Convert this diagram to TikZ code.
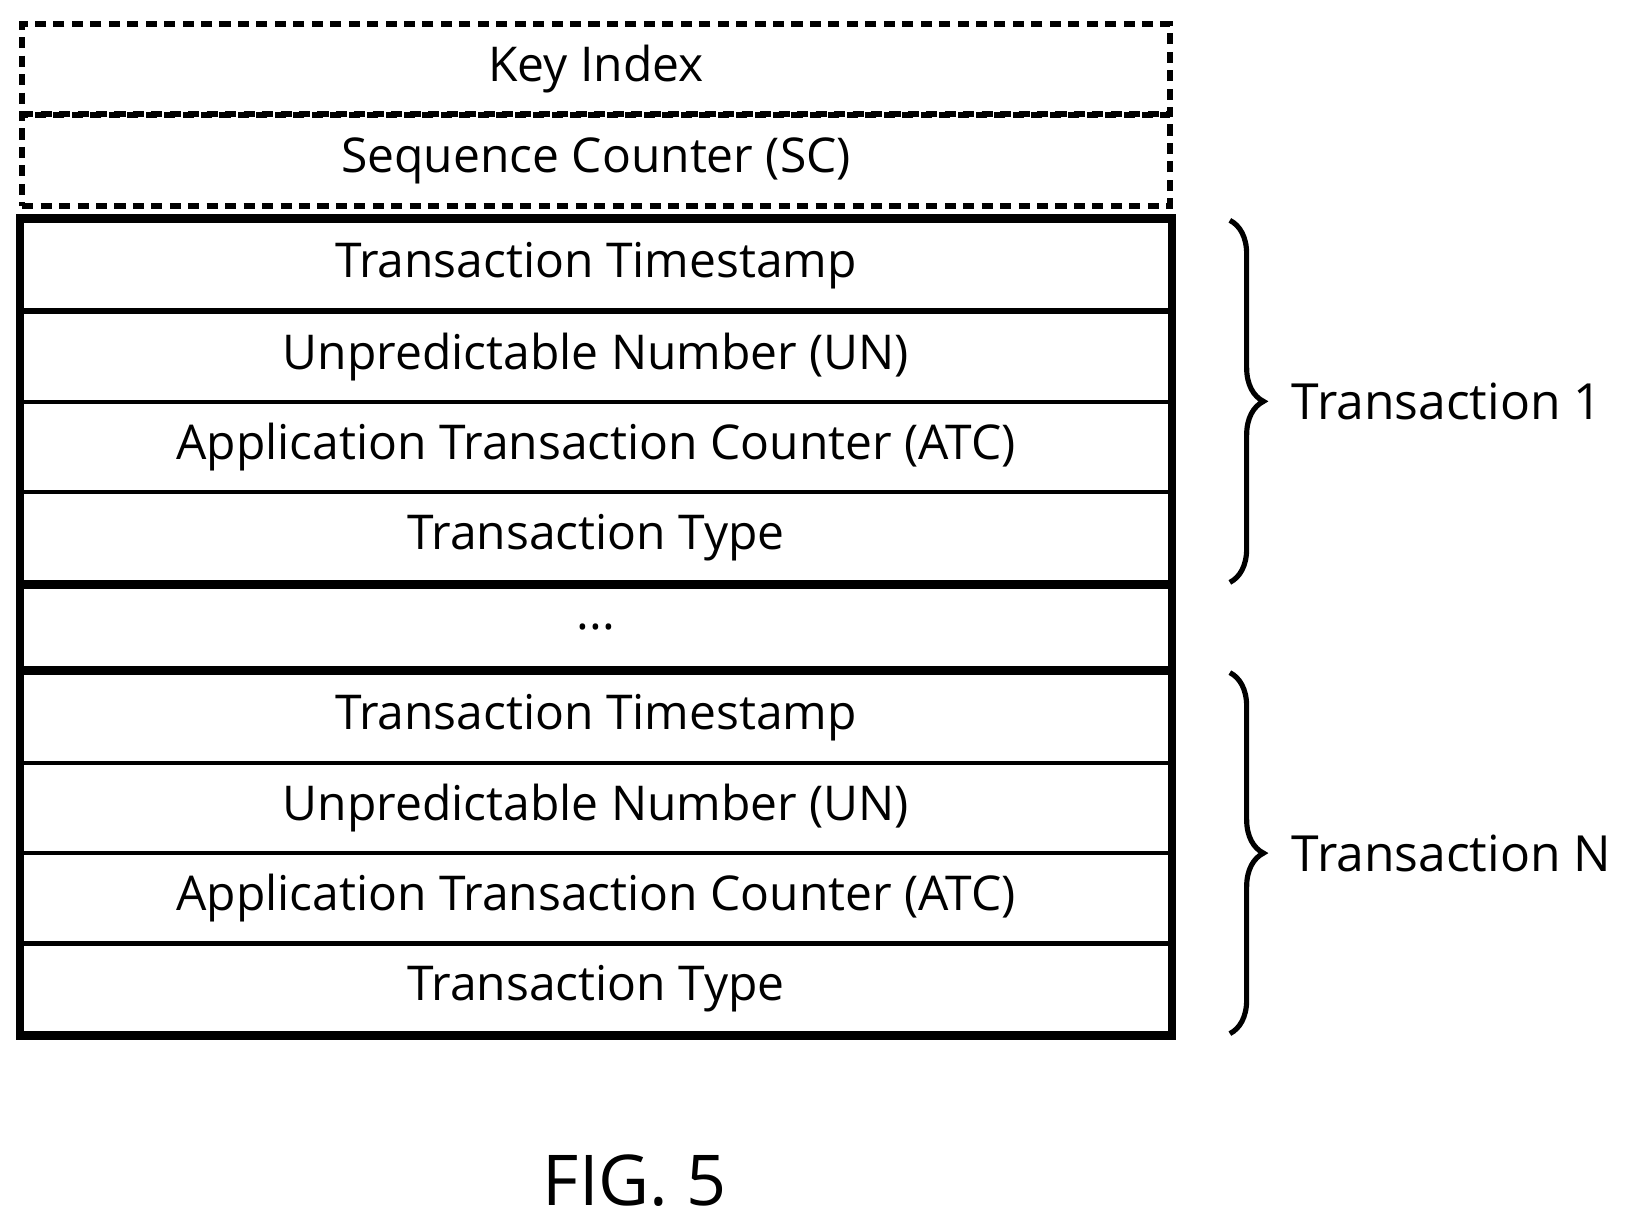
\documentclass[tikz,border=0pt]{standalone}
\usepackage{fontspec}
\setmainfont{Open Sans}
\usetikzlibrary{decorations.pathreplacing}

\tikzset{
  field/.style={draw, line width=1.2pt, minimum width=10.93cm, minimum height=0.86cm,
    inner sep=0pt, font=\fontsize{13}{15}\selectfont},
  optfield/.style={field, dashed, dash pattern=on 3pt off 2pt, line width=1.6pt},
  group/.style={decorate, decoration={brace, amplitude=0.32cm}, line width=1.4pt},
}

\begin{document}
\begin{tikzpicture}[x=0.01cm,y=-0.01cm]
 \useasboundingbox (0,0) rectangle (1560,1165);

 \node[optfield] (ki) at (568,66) {Key Index};
 \node[optfield] (sc) at (568,153) {Sequence Counter (SC)};

 % transaction 1
 \node[field] (ts1) at (568,253) {Transaction Timestamp};
 \node[field] (un1) at (568,340) {Unpredictable Number (UN)};
 \node[field] (atc1) at (568,426) {Application Transaction Counter (ATC)};
 \node[field] (tt1) at (568,512) {Transaction Type};

 \node[field] (dots) at (568,598) {...};

 % transaction N
 \node[field] (ts2) at (568,684) {Transaction Timestamp};
 \node[field] (un2) at (568,770) {Unpredictable Number (UN)};
 \node[field] (atc2) at (568,856) {Application Transaction Counter (ATC)};
 \node[field] (tt2) at (568,942) {Transaction Type};

 % thick outlines
 \draw[line width=2.2pt] (ts1.north west) rectangle (tt2.south east);
 \draw[line width=2.2pt] (tt1.south west) -- (tt1.south east);
 \draw[line width=2.2pt] (ts2.north west) -- (ts2.north east);

 \coordinate (b1t) at (1172,210);
 \coordinate (b1b) at (1172,555);
 \coordinate (b2t) at (1172,641);
 \coordinate (b2b) at (1172,985);
 \draw[group] (b1t) -- (b1b) node[midway, right=0.45cm, font=\fontsize{13.5}{16}\selectfont] (t1) {Transaction 1};
 \draw[group] (b2t) -- (b2b) node[midway, right=0.45cm, font=\fontsize{13.5}{16}\selectfont] (tn) {Transaction N};

 \node[font=\fontsize{19}{22}\selectfont] (fig) at (605,1125) {FIG. 5};
\end{tikzpicture}
\end{document}
